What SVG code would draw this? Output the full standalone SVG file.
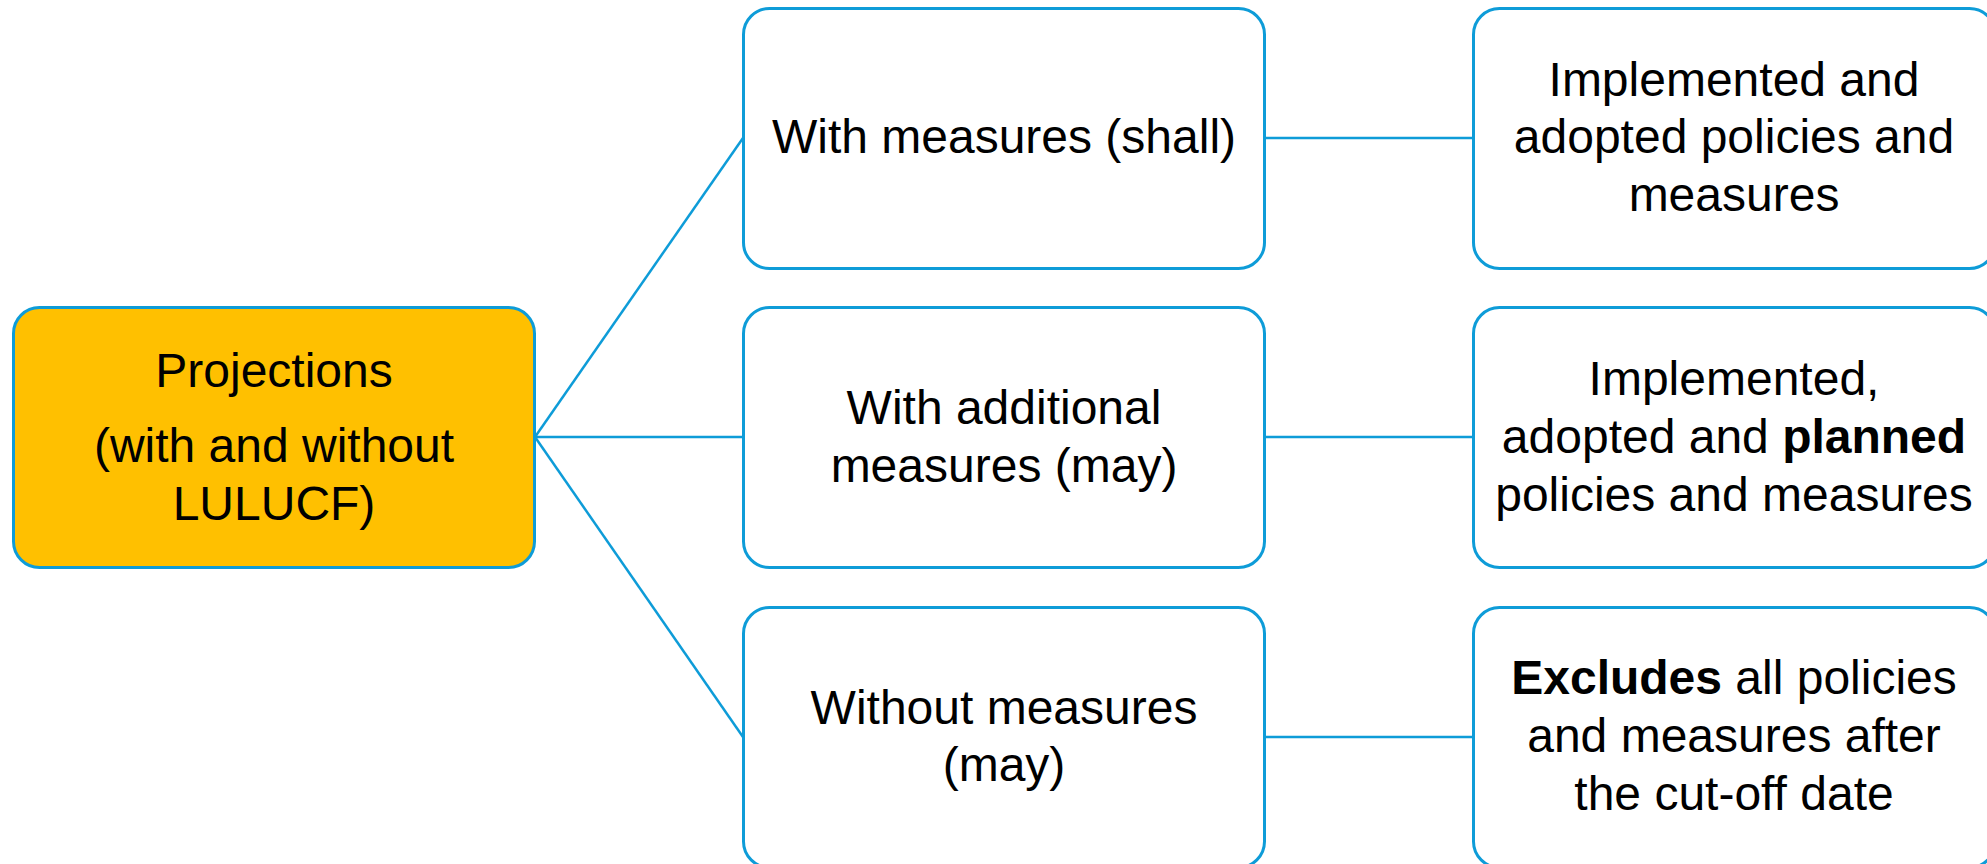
<svg xmlns="http://www.w3.org/2000/svg" width="1987" height="864" viewBox="0 0 1987 864">
<style>
.box{fill:#FFFFFF;stroke:#0E9CD8;stroke-width:3}
.root{fill:#FFC000;stroke:#0E9CD8;stroke-width:3}
.conn{stroke:#0E9CD8;stroke-width:2.5;fill:none}
text{font-family:"Liberation Sans",Arial,sans-serif;font-size:48px;fill:#000000;text-anchor:middle}
.b{font-weight:bold}
</style>
<rect width="1987" height="864" fill="#FFFFFF"/>
<g id="connectors">
<line class="conn" x1="535" y1="437" x2="743" y2="138"/>
<line class="conn" x1="535" y1="437" x2="743" y2="437"/>
<line class="conn" x1="535" y1="437" x2="743" y2="737"/>
<line class="conn" x1="1264" y1="138" x2="1473" y2="138"/>
<line class="conn" x1="1264" y1="437" x2="1473" y2="437"/>
<line class="conn" x1="1264" y1="737" x2="1473" y2="737"/>
</g>
<g id="projections">
<rect class="root" x="13.5" y="307.5" width="521" height="260" rx="26"/>
<text x="274" y="387">Projections</text>
<text x="274" y="462">(with and without</text>
<text x="274" y="520">LULUCF)</text>
</g>
<g id="wm">
<rect class="box" x="743.5" y="8.5" width="521" height="260" rx="26"/>
<text x="1004" y="153">With measures (shall)</text>
</g>
<g id="wam">
<rect class="box" x="743.5" y="307.5" width="521" height="260" rx="26"/>
<text x="1004" y="424">With additional</text>
<text x="1004" y="482">measures (may)</text>
</g>
<g id="wom">
<rect class="box" x="743.5" y="607.5" width="521" height="260" rx="26"/>
<text x="1004" y="724">Without measures</text>
<text x="1004" y="781">(may)</text>
</g>
<g id="wm-desc">
<rect class="box" x="1473.5" y="8.5" width="522" height="260" rx="26"/>
<text x="1734" y="96">Implemented and</text>
<text x="1734" y="153">adopted policies and</text>
<text x="1734" y="211">measures</text>
</g>
<g id="wam-desc">
<rect class="box" x="1473.5" y="307.5" width="522" height="260" rx="26"/>
<text x="1734" y="395">Implemented,</text>
<text x="1734" y="453">adopted and <tspan class="b">planned</tspan></text>
<text x="1734" y="511">policies and measures</text>
</g>
<g id="wom-desc">
<rect class="box" x="1473.5" y="607.5" width="522" height="260" rx="26"/>
<text x="1734" y="694"><tspan class="b">Excludes</tspan> all policies</text>
<text x="1734" y="752">and measures after</text>
<text x="1734" y="810">the cut-off date</text>
</g>
</svg>
